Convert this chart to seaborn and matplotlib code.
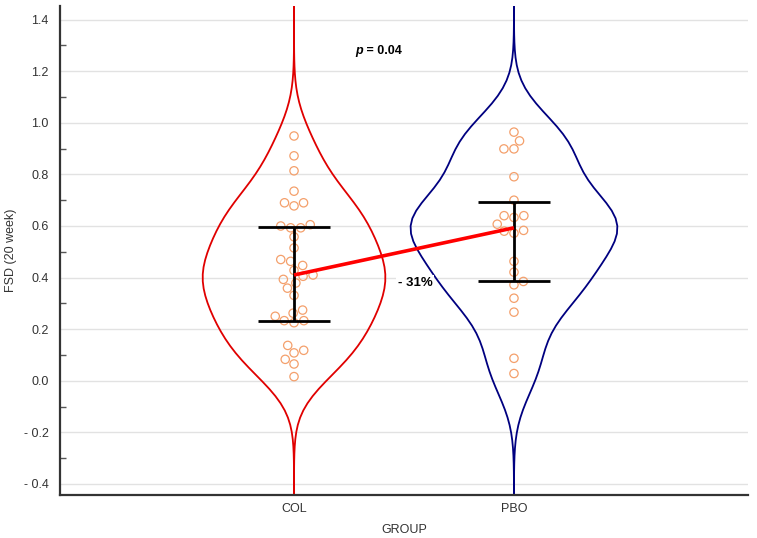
import numpy as np
import pandas as pd
import matplotlib
matplotlib.use("Agg")
import matplotlib.pyplot as plt
import seaborn as sns
from matplotlib.ticker import MultipleLocator, FixedLocator

# ---------------- data ----------------
groups = ["COL", "PBO"]
col_values = [0.949, 0.872, 0.814, 0.735, 0.69, 0.69, 0.678, 0.605, 0.60, 0.593,
              0.593, 0.558, 0.515, 0.47, 0.463, 0.447, 0.428, 0.41, 0.405, 0.393,
              0.379, 0.359, 0.331, 0.274, 0.262, 0.25, 0.233, 0.233, 0.225, 0.137,
              0.118, 0.108, 0.083, 0.065, 0.016]
pbo_values = [0.964, 0.930, 0.899, 0.899, 0.791, 0.70, 0.64, 0.64, 0.633, 0.607,
              0.583, 0.58, 0.572, 0.463, 0.421, 0.385, 0.372, 0.32, 0.266, 0.087,
              0.028]
q1 = [0.232, 0.386]
medians = [0.41, 0.593]
q3 = [0.598, 0.694]
ytick_values = [-0.4, -0.2, 0.0, 0.2, 0.4, 0.6, 0.8, 1.0, 1.2, 1.4]
ytick_labels = ["- 0.4", "- 0.2", "0.0", "0.2", "0.4", "0.6", "0.8", "1.0", "1.2", "1.4"]
p_label = "p"
p_value_text = " = 0.04"
diff_text = "- 31%"

violin_colors = ["#e00000", "#000080"]
violin_widths = [0.83, 0.94]
violin_bw = [0.96, 0.88]
point_color = "#f4a06c"

# ---------------- style ----------------
sns.set_theme(style="white")
plt.rcParams["font.family"] = ["Liberation Sans", "DejaVu Sans"]

fig = plt.figure(figsize=(7.57, 5.38), dpi=100)
ax = fig.add_axes([60 / 757, 1 - 495 / 538, (748 - 60) / 757, (495 - 6) / 538])

df = pd.DataFrame({
    "group": ["COL"] * len(col_values) + ["PBO"] * len(pbo_values),
    "value": col_values + pbo_values,
})

for g, c, w, bw in zip(groups, violin_colors, violin_widths, violin_bw):
    sns.violinplot(data=df[df["group"] == g], x="group", y="value", order=groups,
                   fill=False, color=c, linecolor=c, inner=None, cut=8,
                   bw_adjust=bw, density_norm="width", width=w, linewidth=1.3,
                   ax=ax)

sns.swarmplot(data=df, x="group", y="value", order=groups, color=point_color,
              facecolor="none", edgecolor=point_color, linewidth=0.9, size=6.0,
              ax=ax, zorder=3)

pos = np.arange(len(groups))
med = np.array(medians)
ax.errorbar(pos, med, yerr=[med - np.array(q1), np.array(q3) - med], fmt="none",
            ecolor="black", elinewidth=2.0, capsize=26, capthick=2.0, zorder=4)
ax.plot(pos, med, color="#ff0000", lw=2.6, zorder=5, solid_capstyle="butt")

ax.set_xlim(-1.064, 2.064)
ax.set_ylim(-0.443, 1.453)

ax.yaxis.set_major_locator(FixedLocator(ytick_values))
ax.set_yticklabels(ytick_labels)
ax.yaxis.set_minor_locator(MultipleLocator(0.1))
ax.yaxis.grid(True, color="#e2e2e2", lw=1.0)
ax.xaxis.grid(False)
ax.set_axisbelow(True)

for s in ["top", "right"]:
    ax.spines[s].set_visible(False)
for s in ["left", "bottom"]:
    ax.spines[s].set_color("#333333")
    ax.spines[s].set_linewidth(1.6)

ax.tick_params(axis="both", which="major", direction="in", length=8, width=1.5,
               color="#333333", labelsize=9, labelcolor="#333333")
ax.tick_params(axis="y", which="major", pad=8)
ax.tick_params(axis="x", which="major", pad=6)
ax.tick_params(axis="y", which="minor", direction="in", length=4, width=1.0,
               color="#555555", left=True)

ax.set_xlabel("GROUP", fontsize=9, color="#333333", labelpad=6)
ax.set_ylabel("FSD (20 week)", fontsize=9, color="#333333", labelpad=5)

ax.text(0.314, 1.28, p_label, fontsize=9, fontweight="bold", fontstyle="italic",
        ha="right", va="center", color="black")
ax.text(0.314, 1.28, p_value_text, fontsize=9, fontweight="bold",
        ha="left", va="center", color="black")
ax.text(0.55, 0.38, diff_text, fontsize=9.5, fontweight="bold", ha="center",
        va="center", color="black", zorder=6,
        bbox=dict(facecolor="white", edgecolor="none", pad=1.5))

fig.savefig("out.png", dpi=100)
